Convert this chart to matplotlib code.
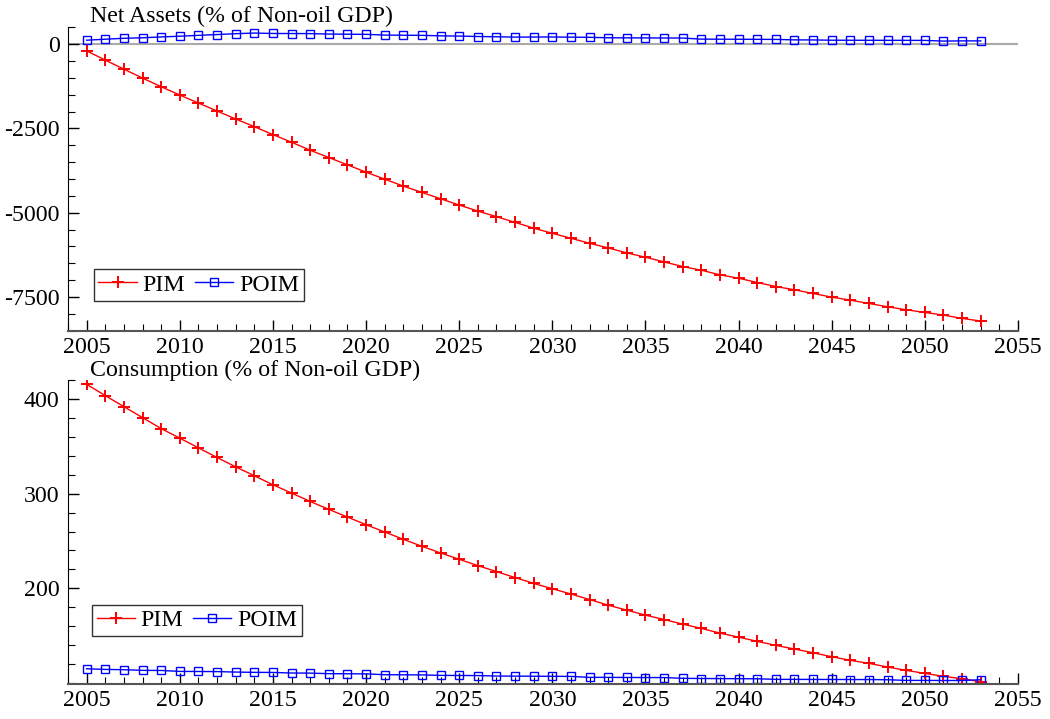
import matplotlib
matplotlib.use("Agg")
import matplotlib.pyplot as plt
from matplotlib.ticker import MultipleLocator, FixedLocator, FuncFormatter

years = list(range(2005, 2054))

# Net assets (% of non-oil GDP)
assets_pim = [-197, -473, -740, -1006, -1262, -1509, -1746, -1982, -2219, -2446,
              -2683, -2909, -3146, -3363, -3580, -3797, -4004, -4211, -4398, -4586,
              -4773, -4951, -5118, -5286, -5459, -5611, -5759, -5907, -6045, -6193,
              -6321, -6460, -6598, -6706, -6844, -6943, -7071, -7190, -7288, -7397,
              -7505, -7594, -7693, -7792, -7880, -7959, -8038, -8136, -8215]
assets_poim = [118, 148, 175, 190, 215, 237, 262, 286, 312, 330,
               318, 316, 314, 300, 296, 292, 270, 266, 262, 248,
               240, 228, 220, 210, 212, 214, 208, 204, 190, 188,
               186, 184, 182, 150, 148, 146, 144, 142, 128, 126,
               118, 117, 116, 115, 114, 112, 92, 98, 98]

# Consumption (% of non-oil GDP)
cons_pim = [415.5, 403.5, 391.9, 380.3, 368.7, 358.6, 348.4, 338.2, 328.3, 318.9,
            309.4, 300.6, 291.8, 283.4, 275.3, 267.2, 259.5, 251.8, 244.4, 237.4,
            230.7, 224.0, 217.7, 211.4, 205.2, 199.6, 194.0, 188.2, 182.2, 177.0,
            171.7, 167.1, 162.2, 157.7, 152.7, 148.5, 144.0, 139.8, 135.9, 132.0,
            127.8, 124.0, 120.8, 116.9, 113.4, 110.2, 107.1, 104.6, 101.4]
cons_poim = [115.1, 114.4, 114.1, 113.4, 113.3, 112.3, 112.2, 112.1, 111.6, 111.3,
             111.2, 110.6, 110.5, 109.9, 109.8, 109.7, 108.8, 108.7, 108.6, 108.1,
             108.0, 107.9, 107.4, 107.3, 107.2, 107.1, 107.0, 106.0, 106.0, 105.9,
             105.8, 105.8, 105.0, 104.8, 104.7, 104.6, 104.5, 103.9, 103.9, 103.8,
             103.8, 103.7, 103.7, 103.5, 102.8, 102.8, 102.7, 102.7, 103.5]

plt.rcParams['font.family'] = ['Liberation Serif', 'DejaVu Serif']
FS = 17.2

fig = plt.figure(figsize=(10.5, 7.19), dpi=100)
W, H = 1050, 719


def make_axes(left, top, right, bottom):
    return fig.add_axes([left / W, 1 - bottom / H, (right - left) / W, (bottom - top) / H])


def style_axes(ax):
    for s in ['top', 'right']:
        ax.spines[s].set_visible(False)
    ax.spines['left'].set_color('black')
    ax.spines['bottom'].set_color('#555555')
    ax.spines['bottom'].set_linewidth(1.5)
    ax.set_xlim(2004, 2055)
    ax.xaxis.set_major_locator(MultipleLocator(5))
    ax.xaxis.set_minor_locator(MultipleLocator(1))
    ax.tick_params(axis='both', which='major', direction='in', length=8, width=1,
                   labelsize=FS, pad=4)
    ax.tick_params(axis='both', which='minor', direction='in', length=5, width=0.8)
    ax.tick_params(axis='y', which='major', pad=6)
    ax.yaxis.set_major_formatter(FuncFormatter(lambda v, p: '%d' % v))


def draw(ax, pim, poim):
    ax.plot(years, pim, color='red', lw=1, marker='+', ms=9, mew=1.4, label='PIM')
    ax.plot(years, poim, color='blue', lw=1, marker='s', ms=5.5, mew=1,
            mfc='none', label='POIM')


def add_legend(ax, anchor):
    leg = ax.legend(loc='lower left', bbox_to_anchor=anchor, ncol=2,
                    fontsize=FS, frameon=True, fancybox=False, borderpad=0.2,
                    handlelength=1.6, handletextpad=0.25, columnspacing=0.4,
                    borderaxespad=0)
    leg.get_frame().set_edgecolor('black')
    leg.get_frame().set_linewidth(1)


# top panel
ax1 = make_axes(68, 27, 1018, 331)
style_axes(ax1)
ax1.axhline(0, color='#aaaaaa', lw=1.5, zorder=0)
draw(ax1, assets_pim, assets_poim)
ax1.set_ylim(-8510, 510)
ax1.yaxis.set_major_locator(MultipleLocator(2500))
ax1.yaxis.set_minor_locator(MultipleLocator(500))
fig.text(90 / W, 1 - 16 / H, 'Net Assets (% of Non-oil GDP)', fontsize=FS,
         ha='left', va='center')
add_legend(ax1, (0.027, 0.10))

# bottom panel
ax2 = make_axes(68, 380, 1018, 684)
style_axes(ax2)
draw(ax2, cons_pim, cons_poim)
ax2.set_ylim(99, 420)
ax2.yaxis.set_major_locator(FixedLocator([200, 300, 400]))
ax2.yaxis.set_minor_locator(MultipleLocator(20))
fig.text(90 / W, 1 - 370 / H, 'Consumption (% of Non-oil GDP)', fontsize=FS,
         ha='left', va='center')
add_legend(ax2, (0.025, 0.158))

fig.savefig('out.png', dpi=100)
